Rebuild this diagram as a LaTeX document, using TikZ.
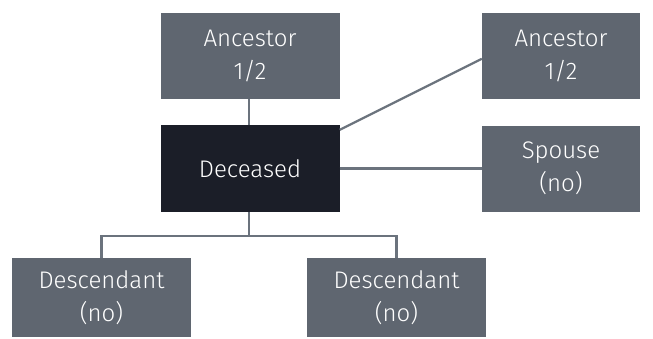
\documentclass[tikz,border=0pt]{standalone}
\usepackage{fontspec}
\setmainfont{Fira Sans Light}
\definecolor{boxgray}{HTML}{5F6670}
\definecolor{boxdark}{HTML}{1B1E28}
\definecolor{linegray}{HTML}{6B737D}
\begin{document}
\begin{tikzpicture}[x=1pt,y=1pt,
  box/.style={fill=boxgray,text=white,minimum width=179pt,minimum height=86pt,inner sep=0pt,align=center,font=\fontsize{24}{33}\selectfont},
  darkbox/.style={box,fill=boxdark,minimum height=87pt},
  conn/.style={draw=linegray,line width=2.2pt}]
\useasboundingbox (0,0) rectangle (653,338);
\node[box] (a1) at (250,282) {Ancestor\\1/2};
\node[box,minimum width=158pt] (a2) at (561,282) {Ancestor\\1/2};
\node[darkbox] (d) at (250,169.5) {Deceased};
\node[box,minimum width=158pt] (s) at (561,169.5) {Spouse\\(no)};
\node[box,minimum height=79pt] (c1) at (101.5,40.5) {Descendant\\(no)};
\node[box,minimum height=79pt] (c2) at (396.5,40.5) {Descendant\\(no)};
\coordinate (j) at (249,102);
\draw[conn] (a1.south -| j) -- (d.north -| j);
\draw[conn] ([yshift=-5pt]d.north east) -- ([yshift=-46pt]a2.north west);
\draw[conn] (d.east) -- (s.west);
\draw[conn] (d.south -| j) -- (j);
\draw[conn] (c1.north) |- (j) -| (c2.north);
\end{tikzpicture}
\end{document}
